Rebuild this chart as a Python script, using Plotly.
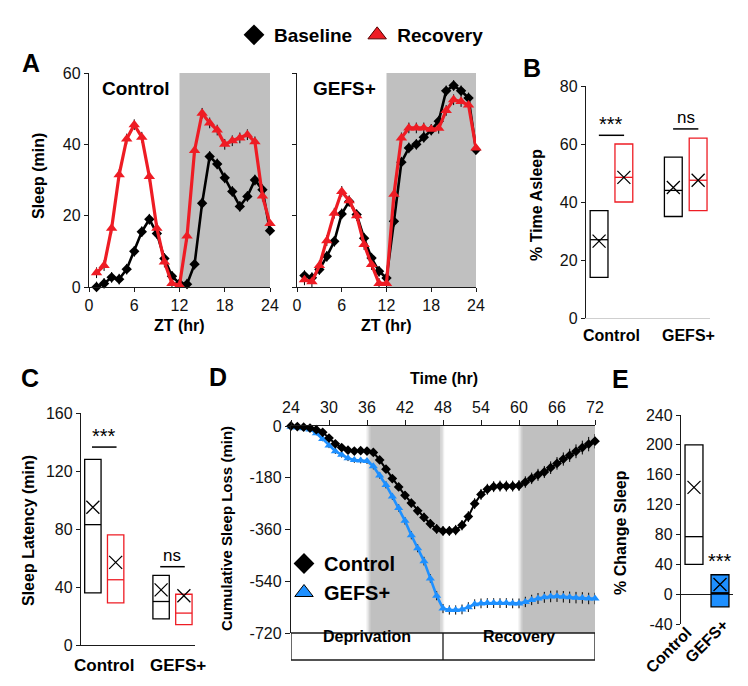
import plotly.graph_objects as go

W, H = 748, 686
FONT = "Liberation Sans, Arial, Helvetica, sans-serif"
RED = "#ee1c24"
BLUE = "#1e90ff"
GRAY = "#c0c0c0"
AX = "#1a1a1a"

# ---------------- data ----------------
zt_hours = list(range(1, 25))
a_ctrl_baseline = [0, 1, 2.7, 2.2, 5, 10, 15.5, 19, 15, 8, 3, 1, 0.8, 6.4, 23.5, 36.6, 34.5, 30.6, 26.8, 22.6, 25.4, 30, 27.3, 15.8]
a_ctrl_recovery = [4, 6, 16.5, 31.5, 41.5, 45.5, 42, 31, 16.5, 7, 1, 0.5, 14.3, 38.3, 48.7, 46, 44, 40, 41, 41.8, 42.7, 40.7, 25.5, 17.8]
a_gefs_baseline = [3.2, 2.6, 4.9, 8.6, 12.8, 20.5, 24, 20.3, 13.7, 8.1, 4.4, 2.5, 18.4, 35, 39, 40, 42, 44, 46.5, 55, 56.5, 55, 53, 38.5]
a_gefs_recovery = [2, 1.5, 6, 13, 20.7, 26.8, 24.2, 20, 11.9, 6.3, 1, 1, 26, 41.8, 44.6, 44.6, 44.6, 44.2, 44.5, 49.5, 52.5, 52, 51, 39]
a_sem = 1.5

b_groups = ["Control", "GEFS+"]
# order: Control baseline, Control recovery, GEFS+ baseline, GEFS+ recovery
b_q1 = [14, 40, 35, 37]
b_q3 = [37, 60, 55.5, 62]
b_median = [27, 48.5, 44, 47.5]
b_mean = [26.5, 48.5, 45, 47.5]
b_sig_text = ["***", "ns"]
b_sig_level = [63, 65.2]

c_groups = ["Control", "GEFS+"]
c_q1 = [36, 29, 18, 14]
c_q3 = [128, 76, 48, 35]
c_median = [83, 45, 30, 22]
c_mean = [95, 57, 38, 34]
c_sig_text = ["***", "ns"]
c_sig_level = [136.5, 54]

d_hours = list(range(24, 73))
d_control = [0, -2, -4, -7, -13, -22, -42, -62, -75, -84, -87, -86, -87, -92, -118, -150, -183, -212, -241, -268, -295, -318, -340, -358, -365,
             -365, -362, -345, -315, -270, -238, -220, -211, -209, -209, -209, -207, -195, -182, -170, -160, -145, -130, -115, -102, -88, -75, -63, -53]
d_control_err = [3, 4, 5, 6, 7, 8, 9, 10, 10, 10, 11, 11, 11, 12, 12, 13, 13, 14, 14, 15, 15, 16, 16, 17, 17,
                 17, 18, 18, 19, 19, 19, 19, 19, 19, 19, 19, 19, 20, 20, 21, 21, 22, 22, 23, 23, 24, 24, 25, 25]
d_gefs = [-3, -5, -8, -12, -25, -45, -68, -88, -100, -112, -118, -120, -122, -140, -172, -205, -245, -285, -330, -380, -425, -470, -530, -590, -635,
          -640, -640, -638, -630, -620, -617, -616, -616, -616, -616, -617, -617, -612, -605, -600, -596, -593, -592, -594, -596, -597, -598, -600, -600]
d_gefs_err = [3, 4, 5, 6, 7, 8, 9, 9, 10, 10, 10, 10, 10, 11, 11, 12, 12, 13, 13, 14, 14, 15, 15, 16, 16,
              16, 16, 17, 17, 17, 17, 17, 17, 17, 17, 17, 17, 18, 18, 19, 19, 20, 20, 20, 20, 20, 20, 20, 20]
d_phases = ["Deprivation", "Recovery"]
d_phase_bounds = [24, 48, 72]
d_dark = [(36, 48), (60, 72)]

e_groups = ["Control", "GEFS+"]
e_q1 = [40, -17]
e_q3 = [200, 26]
e_median = [77, 1]
e_mean = [143, 13]
e_sig_text = "***"
e_sig_level = 44


# ---------------- helpers ----------------
def fx(p):
    return p / W


def fy(p):
    return 1 - p / H


fig = go.Figure()
annotations = []
shapes = []


def ann(text, x, y, size=16, bold=True, angle=0, xref="paper", yref="paper", px=True):
    if px:
        x, y = fx(x), fy(y)
    annotations.append(dict(text=f"<b>{text}</b>" if bold else text, x=x, y=y, xref=xref, yref=yref,
                            showarrow=False, textangle=angle, xanchor="center", yanchor="middle",
                            font=dict(family=FONT, size=size, color="black")))


def add_boxes(xs, q1, q3, med, mean, edges, fills, med_colors, med_widths, width, xa, ya):
    fig.add_trace(go.Bar(x=xs, y=[h - l for h, l in zip(q3, q1)], base=q1, width=width,
                         marker=dict(color=fills, line=dict(color=edges, width=1.3)),
                         xaxis=xa, yaxis=ya, showlegend=False, hoverinfo="skip"))
    for x, m, c, lw in zip(xs, med, med_colors, med_widths):
        fig.add_trace(go.Scatter(x=[x - width / 2, x + width / 2], y=[m, m], mode="lines",
                                 line=dict(color=c, width=lw), xaxis=xa, yaxis=ya,
                                 showlegend=False, hoverinfo="skip"))
    fig.add_trace(go.Scatter(x=xs, y=mean, mode="markers",
                             marker=dict(symbol="x-thin", size=13, line=dict(color="black", width=1.3)),
                             xaxis=xa, yaxis=ya, showlegend=False, hoverinfo="skip", cliponaxis=False))


def add_sig(levels, texts, xa, ya, half=0.17):
    for g, (lvl, t) in enumerate(zip(levels, texts), start=1):
        fig.add_trace(go.Scatter(x=[g - half, g + half], y=[lvl, lvl], mode="lines",
                                 line=dict(color="black", width=1.5), xaxis=xa, yaxis=ya,
                                 showlegend=False, hoverinfo="skip", cliponaxis=False))
        annotations.append(dict(text=t, x=g, y=lvl, xref=xa, yref=ya, showarrow=False,
                                yanchor="bottom", yshift=-2 if t == "***" else 0,
                                font=dict(family=FONT, size=20 if t == "***" else 17, color="black")))


# ---------------- Panel A ----------------
for xa, ya, base, rec in [("x", "y", a_ctrl_baseline, a_ctrl_recovery),
                          ("x2", "y2", a_gefs_baseline, a_gefs_recovery)]:
    shapes.append(dict(type="rect", xref=xa, yref=ya, x0=12, x1=24, y0=0, y1=60,
                       fillcolor=GRAY, line=dict(width=0), layer="below"))
    fig.add_trace(go.Scatter(x=zt_hours, y=base, mode="lines+markers",
                             line=dict(color="black", width=2.6),
                             marker=dict(symbol="diamond", size=8, color="black"),
                             error_y=dict(type="constant", value=a_sem, color="black", thickness=1, width=0),
                             xaxis=xa, yaxis=ya, showlegend=False, cliponaxis=False))
    fig.add_trace(go.Scatter(x=zt_hours, y=rec, mode="lines+markers",
                             line=dict(color=RED, width=3.2),
                             marker=dict(symbol="triangle-up", size=10, color=RED),
                             error_y=dict(type="constant", value=a_sem, color="black", thickness=1, width=0),
                             xaxis=xa, yaxis=ya, showlegend=False, cliponaxis=False))

# ---------------- Panel B ----------------
OFF = 0.167
BW = 0.24
pos4 = [1 - OFF, 1 + OFF, 2 - OFF, 2 + OFF]
add_boxes(pos4, b_q1, b_q3, b_median, b_mean, ["black", RED, "black", RED],
          ["rgba(255,255,255,0)"] * 4, ["black", RED, "black", RED], [1.3] * 4, BW, "x3", "y3")
add_sig(b_sig_level, b_sig_text, "x3", "y3")

# ---------------- Panel C ----------------
add_boxes(pos4, c_q1, c_q3, c_median, c_mean, ["black", RED, "black", RED],
          ["rgba(255,255,255,0)"] * 4, ["black", RED, "black", RED], [1.3] * 4, BW, "x4", "y4")
add_sig(c_sig_level, c_sig_text, "x4", "y4", half=0.18)

# ---------------- Panel D ----------------
for (a, b) in d_dark:
    core_a = a + 0.5
    core_b = b - 0.4 if b < 72 else b
    shapes.append(dict(type="rect", xref="x5", yref="y5", x0=core_a, x1=core_b, y0=-720, y1=0,
                       fillcolor=GRAY, line=dict(width=0), layer="below"))
    for k, op in enumerate([0.25, 0.5, 0.75]):
        shapes.append(dict(type="rect", xref="x5", yref="y5", x0=a - 0.1 + 0.2 * k, x1=a + 0.1 + 0.2 * k,
                           y0=-720, y1=0, fillcolor=f"rgba(192,192,192,{op})", line=dict(width=0), layer="below"))
    if b < 72:
        for k, op in enumerate([0.75, 0.5, 0.25]):
            shapes.append(dict(type="rect", xref="x5", yref="y5", x0=core_b + 0.2 * k, x1=core_b + 0.2 * (k + 1),
                               y0=-720, y1=0, fillcolor=f"rgba(192,192,192,{op})", line=dict(width=0), layer="below"))

fig.add_trace(go.Scatter(x=d_hours, y=d_gefs, mode="lines+markers",
                         line=dict(color=BLUE, width=2.6),
                         marker=dict(symbol="triangle-up", size=8, color=BLUE),
                         error_y=dict(type="data", array=d_gefs_err, color="black", thickness=1, width=0),
                         xaxis="x5", yaxis="y5", showlegend=False, cliponaxis=False))
fig.add_trace(go.Scatter(x=d_hours, y=d_control, mode="lines+markers",
                         line=dict(color="black", width=2),
                         marker=dict(symbol="diamond", size=7.5, color="black"),
                         error_y=dict(type="data", array=d_control_err, color="black", thickness=1, width=0),
                         xaxis="x5", yaxis="y5", showlegend=False, cliponaxis=False))

# phase label box below panel D
shapes.append(dict(type="rect", xref="x5", yref="paper", x0=d_phase_bounds[0], x1=d_phase_bounds[2],
                   y0=fy(652), y1=fy(625), line=dict(color=AX, width=1.3), fillcolor="rgba(0,0,0,0)"))
shapes.append(dict(type="line", xref="x5", yref="paper", x0=d_phase_bounds[1], x1=d_phase_bounds[1],
                   y0=fy(652), y1=fy(625), line=dict(color=AX, width=1.3)))
for i, ph in enumerate(d_phases):
    annotations.append(dict(text=f"<b>{ph}</b>", x=(d_phase_bounds[i] + d_phase_bounds[i + 1]) / 2, y=fy(639),
                            xref="x5", yref="paper", showarrow=False,
                            font=dict(family=FONT, size=16, color="black")))

# ---------------- Panel E ----------------
add_boxes([1, 2], e_q1, e_q3, e_median, e_mean, ["black", "black"], ["rgba(255,255,255,0)", BLUE],
          ["black", "black"], [1.3, 2.6], 0.69, "x6", "y6")
annotations.append(dict(text=e_sig_text, x=2, y=e_sig_level, xref="x6", yref="y6", showarrow=False,
                        font=dict(family=FONT, size=20, color="black")))

# ---------------- legends (legend-only entries) ----------------
fig.add_trace(go.Scatter(x=[None], y=[None], mode="markers", name="<b>Baseline</b>",
                         marker=dict(symbol="diamond", size=16, color="black"), legend="legend"))
fig.add_trace(go.Scatter(x=[None], y=[None], mode="markers", name="<b>Recovery</b>",
                         marker=dict(symbol="triangle-up", size=16, color=RED, line=dict(color="#500", width=1)),
                         legend="legend"))
fig.add_trace(go.Scatter(x=[None], y=[None], mode="markers", name="<b>Control</b>",
                         marker=dict(symbol="diamond", size=16, color="black"), legend="legend2"))
fig.add_trace(go.Scatter(x=[None], y=[None], mode="markers", name="<b>GEFS+</b>",
                         marker=dict(symbol="triangle-up", size=16, color=BLUE, line=dict(color="black", width=1)),
                         legend="legend2"))

# ---------------- text annotations ----------------
for t, x, y in [("A", 23, 55), ("B", 524, 60), ("C", 22, 370), ("D", 210, 369), ("E", 612, 371)]:
    ann(t, x, y, size=25)
ann("Control", 128, 81, size=19)
ann("GEFS+", 336, 81, size=19)
ann("Sleep (min)", 30, 168, size=16, angle=-90)
ann("ZT (hr)", 171.5, 317, size=16)
ann("ZT (hr)", 378.5, 317, size=16)
ann("% Time Asleep", 529, 197, size=16, angle=-90)
ann(b_groups[0], 603, 327, size=16)
ann(b_groups[1], 680, 327, size=16)
ann("Sleep Latency (min)", 20, 523, size=16, angle=-90)
ann(c_groups[0], 96, 657, size=17)
ann(c_groups[1], 170, 657, size=17)
ann("Cumulative Sleep Loss (min)", 218, 521, size=15, angle=-90)
ann("Time (hr)", 436, 370, size=16)
ann("% Change Sleep", 612, 525, size=16, angle=-90)
ann(e_groups[0], 660, 642, size=16, angle=-45)
ann(e_groups[1], 698, 633, size=16, angle=-45)

# ---------------- axes ----------------
tickfont = dict(family=FONT, size=16, color="#111")


def axis(domain_px, rng, horizontal, **kw):
    if horizontal:
        dom = [fx(domain_px[0]), fx(domain_px[1])]
    else:
        dom = [fy(domain_px[1]), fy(domain_px[0])]
    base = dict(domain=dom, range=rng, showgrid=False, zeroline=False, showline=True, linecolor=AX,
                linewidth=1.3, ticks="outside", ticklen=4, tickcolor=AX, tickwidth=1.3,
                tickfont=tickfont, fixedrange=True, automargin=False)
    base.update(kw)
    return base


layout_axes = dict(
    xaxis=axis((81, 262), [0, 24], True, anchor="y", tickvals=[0, 6, 12, 18, 24]),
    yaxis=axis((65, 279), [0, 60], False, anchor="x", tickvals=[0, 20, 40, 60]),
    xaxis2=axis((289, 468), [0, 24], True, anchor="y2", tickvals=[0, 6, 12, 18, 24]),
    yaxis2=axis((65, 279), [0, 60], False, anchor="x2", tickvals=[0, 20, 40, 60], showticklabels=False),
    xaxis3=axis((578, 702), [0.657, 2.327], True, anchor="y3", showticklabels=False, ticks="",
                linecolor="#cfcfcf"),
    yaxis3=axis((78, 310), [0, 80], False, anchor="x3", tickvals=[0, 20, 40, 60, 80]),
    xaxis4=axis((73, 187), [0.659, 2.33], True, anchor="y4", showticklabels=False, ticks=""),
    yaxis4=axis((405, 637), [0, 160], False, anchor="x4", tickvals=[0, 40, 80, 120, 160]),
    xaxis5=axis((283, 587), [24, 72], True, anchor="y5", side="top", tickvals=list(range(24, 73, 6)), ticklen=5),
    yaxis5=axis((418, 625), [-720, 0], False, anchor="x5", tickvals=[0, -180, -360, -540, -720],
                ticktext=["0", "-180", "-360", "-540", "-720"], ticklen=5),
    xaxis6=axis((673, 725), [0.5, 2.5], True, anchor="y6", showline=False, showticklabels=False, ticks=""),
    yaxis6=axis((407, 616), [-40, 240], False, anchor="x6", tickvals=list(range(-40, 241, 40)),
                ticktext=["-40"] + [str(v) for v in range(0, 241, 40)], zeroline=True,
                zerolinecolor=AX, zerolinewidth=1.3),
)

fig.update_layout(
    width=W, height=H, margin=dict(l=0, r=0, t=0, b=0),
    paper_bgcolor="white", plot_bgcolor="rgba(0,0,0,0)",
    font=dict(family=FONT, color="black"),
    showlegend=True, barmode="overlay",
    shapes=shapes, annotations=annotations,
    legend=dict(orientation="h", x=fx(226), y=fy(8), xanchor="left", yanchor="top",
                font=dict(family=FONT, size=19, color="black"), bgcolor="rgba(0,0,0,0)"),
    legend2=dict(orientation="v", x=fx(276), y=fy(536), xanchor="left", yanchor="top",
                 font=dict(family=FONT, size=20, color="black"), bgcolor="rgba(0,0,0,0)"),
    **layout_axes,
)

fig.write_html("out.html")
